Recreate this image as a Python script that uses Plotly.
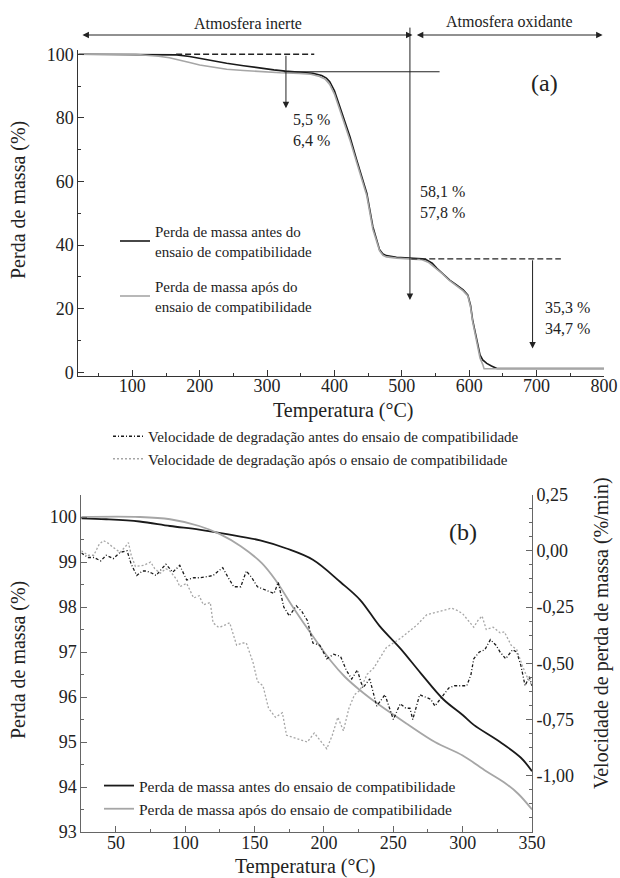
import plotly.graph_objects as go

# ---------------- DATA (a) ----------------
temp_antes_a = [20, 105, 160, 166, 185, 200, 220, 240, 265, 289, 310, 327, 350, 368, 381, 388, 393, 400,
                408, 416, 423, 433, 440, 448, 457, 462, 467, 472, 477, 492, 512, 530, 537, 545, 552, 560,
                571, 581, 591, 598, 602, 605, 611, 616, 620, 626, 633, 641, 800]
massa_antes_a = [100, 100, 100, 99.8, 99.3, 98.7, 98.0, 97.2, 96.4, 95.6, 95.1, 94.7, 94.3, 94.0, 93.3, 92.5,
                 91.4, 88.5, 83.5, 78.5, 74.1, 66.8, 62, 56.3, 45.8, 42, 38.5, 37.2, 36.7, 36.2, 36.0, 35.7,
                 35.3, 34.3, 32.7, 31.2, 29, 27.5, 25.9, 24.3, 21, 16.5, 10.2, 5.5, 3.9, 2.8, 2.0, 1.2, 1.2]
temp_apos_a = [20, 105, 120, 139, 155, 171, 185, 200, 220, 240, 265, 289, 320, 348, 365, 378, 386, 393, 400,
               408, 416, 423, 433, 440, 448, 457, 462, 467, 472, 477, 492, 512, 530, 540, 552, 560, 571, 581,
               591, 598, 602, 605, 611, 616, 620, 622, 800]
massa_apos_a = [100, 100, 99.7, 99.4, 98.9, 98.2, 97.4, 96.6, 95.9, 95.3, 94.9, 94.5, 94.2, 94.0, 93.7, 93.0,
                92.2, 90.5, 87.5, 82.5, 77.5, 73.0, 66, 61, 55.5, 45.0, 41.2, 38.2, 36.8, 36.3, 35.9, 35.7,
                35.4, 34.5, 32.5, 31.0, 28.8, 27.2, 25.6, 24.0, 20.5, 16, 9.5, 4.5, 2.5, 1.1, 1.1]

# ---------------- DATA (b) ----------------
temp_antes_b = [25, 43, 67, 89, 110, 130, 154, 173, 192, 212, 226, 240, 255, 270, 286, 300, 308, 327, 342, 350]
massa_antes_b = [99.97, 99.95, 99.9, 99.8, 99.72, 99.62, 99.48, 99.3, 99.05, 98.55, 98.16, 97.58, 97.08,
                 96.52, 95.95, 95.6, 95.38, 95.0, 94.65, 94.35]
temp_apos_b = [25, 67, 89, 110, 125, 140, 155, 165, 178, 192, 205, 215, 226, 240, 260, 280, 300, 317, 330,
               340, 350]
massa_apos_b = [100.0, 100.0, 99.95, 99.8, 99.62, 99.35, 98.98, 98.6, 97.98, 97.35, 96.8, 96.45, 96.15,
                95.82, 95.4, 95.0, 94.7, 94.35, 94.1, 93.85, 93.5]

temp_vel_antes = [25, 30, 34, 39, 43, 48, 53, 58, 61, 65, 69, 72, 76, 79, 83, 86, 91, 96, 101, 106, 111,
                  116, 120, 124, 127, 131, 135, 140, 144, 148, 152, 156, 160, 164, 167, 171, 175, 180, 184,
                  188, 192, 197, 202, 207, 212, 216, 220, 224, 228, 233, 238, 244, 250, 255, 259, 262, 264,
                  269, 273, 277, 280, 286, 290, 294, 299, 303, 306, 308, 312, 316, 320, 324, 327, 331, 336,
                  339, 342, 345, 348, 350]
vel_antes = [-0.01, -0.03, -0.03, -0.045, -0.02, -0.035, -0.007, 0.0, -0.06, -0.11, -0.09, -0.09, -0.1,
             -0.11, -0.08, -0.06, -0.095, -0.065, -0.13, -0.12, -0.12, -0.115, -0.11, -0.09, -0.075, -0.12,
             -0.16, -0.16, -0.09, -0.12, -0.16, -0.17, -0.18, -0.19, -0.14, -0.25, -0.29, -0.245, -0.27,
             -0.31, -0.41, -0.42, -0.48, -0.46, -0.47, -0.53, -0.57, -0.53, -0.61, -0.57, -0.69, -0.64,
             -0.75, -0.68, -0.7, -0.7, -0.75, -0.64, -0.65, -0.66, -0.69, -0.64, -0.61, -0.6, -0.6, -0.6,
             -0.55, -0.48, -0.45, -0.44, -0.395, -0.42, -0.45, -0.48, -0.44, -0.45, -0.51, -0.6, -0.56, -0.6]

temp_vel_apos = [25, 30, 34, 38, 41, 44, 48, 53, 57, 59, 61, 64, 70, 75, 78, 82, 86, 89, 94, 96, 101, 106,
                 110, 113, 118, 120, 124, 127, 132, 137, 141, 144, 149, 152, 156, 160, 165, 170, 173, 178,
                 184, 188, 193, 197, 202, 206, 210, 214, 218, 222, 226, 231, 236, 240, 245, 250, 255, 261,
                 267, 274, 280, 284, 288, 292, 296, 300, 304, 308, 311, 314, 317, 322, 327, 330, 335, 339,
                 343, 346, 350]
vel_apos = [0.0, -0.02, -0.02, 0.03, 0.045, 0.035, 0.015, -0.007, 0.02, 0.036, -0.02, -0.07, -0.065, -0.05,
            -0.08, -0.1, -0.08, -0.09, -0.13, -0.16, -0.145, -0.21, -0.2, -0.24, -0.23, -0.32, -0.34, -0.335,
            -0.32, -0.42, -0.41, -0.41, -0.5, -0.58, -0.6, -0.7, -0.74, -0.72, -0.82, -0.83, -0.84, -0.85,
            -0.81, -0.84, -0.88, -0.82, -0.74, -0.8, -0.7, -0.64, -0.62, -0.55, -0.52, -0.48, -0.43, -0.41,
            -0.39, -0.36, -0.33, -0.285, -0.275, -0.27, -0.262, -0.255, -0.265, -0.28, -0.31, -0.34, -0.31,
            -0.29, -0.35, -0.34, -0.365, -0.36, -0.42, -0.44, -0.51, -0.555, -0.6]

vel_tickvals = [0.25, 0.0, -0.25, -0.5, -0.75, -1.0]
vel_ticktext = ["0,25", "0,00", "-0,25", "-0,50", "-0,75", "-1,00"]

# ---------------- FIGURE ----------------
W, H = 620, 878
FONT = "Liberation Serif, Times New Roman, Times, serif"
BLACK = "#1a1a1a"
GRAY = "#a6a6a6"
TXT = "#222"


def px(x):
    return x / W


def py(y):
    return 1 - y / H


fig = go.Figure()

# (a) traces
fig.add_trace(go.Scatter(x=temp_antes_a, y=massa_antes_a, mode="lines",
                         line=dict(color=BLACK, width=1.6),
                         name="Perda de massa antes do<br>ensaio de compatibilidade",
                         legend="legend", legendgroup="a1", xaxis="x", yaxis="y"))
fig.add_trace(go.Scatter(x=temp_apos_a, y=massa_apos_a, mode="lines",
                         line=dict(color=GRAY, width=1.6),
                         name="Perda de massa após do<br>ensaio de compatibilidade",
                         legend="legend", legendgroup="a2", xaxis="x", yaxis="y"))

# (b) traces
fig.add_trace(go.Scatter(x=temp_vel_antes, y=vel_antes, mode="lines",
                         line=dict(color=BLACK, width=1.3, dash="3px,2px,1px,2px"),
                         name="Velocidade de degradação antes do ensaio de compatibilidade",
                         legend="legend2", xaxis="x2", yaxis="y3"))
fig.add_trace(go.Scatter(x=temp_vel_apos, y=vel_apos, mode="lines",
                         line=dict(color=GRAY, width=1.3, dash="2px,2px"),
                         name="Velocidade de degradação após o ensaio de compatibilidade",
                         legend="legend2", xaxis="x2", yaxis="y3"))
fig.add_trace(go.Scatter(x=temp_antes_b, y=massa_antes_b, mode="lines", line_shape="spline",
                         line=dict(color=BLACK, width=1.8),
                         name="Perda de massa antes do ensaio de compatibilidade",
                         legend="legend3", xaxis="x2", yaxis="y2"))
fig.add_trace(go.Scatter(x=temp_apos_b, y=massa_apos_b, mode="lines", line_shape="spline",
                         line=dict(color=GRAY, width=1.8),
                         name="Perda de massa após do ensaio de compatibilidade",
                         legend="legend3", xaxis="x2", yaxis="y2"))

tickfont = dict(family=FONT, size=18, color=TXT)
ax_common = dict(showgrid=False, zeroline=False, showline=True, ticks="inside", ticklen=6,
                 tickfont=tickfont, automargin=False)

fig.update_layout(
    width=W, height=H, margin=dict(l=0, r=0, t=0, b=0),
    paper_bgcolor="white", plot_bgcolor="white",
    font=dict(family=FONT, color=TXT),
    separators=",.",
    xaxis=dict(domain=[px(78.4), px(604)], range=[20, 800], dtick=100, tick0=0,
               linecolor="#333", tickcolor="#333", ticklabelstandoff=-6,
               minor=dict(dtick=50, tick0=0, ticks="inside", ticklen=3, tickcolor="#333"),
               anchor="y", **ax_common),
    yaxis=dict(domain=[py(375.5), py(49.5)], range=[-1, 101.5], dtick=20, tick0=0,
               linecolor="#333", tickcolor="#333",
               minor=dict(dtick=10, tick0=0, ticks="inside", ticklen=3, tickcolor="#333"),
               anchor="x", **ax_common),
    xaxis2=dict(domain=[px(81.3), px(532)], range=[25, 350], dtick=50, tick0=0,
                linecolor="#666", tickcolor="#666", ticklabelstandoff=-6,
                minor=dict(dtick=25, tick0=0, ticks="inside", ticklen=3, tickcolor="#666"),
                anchor="y2", **ax_common),
    yaxis2=dict(domain=[py(832), py(494.5)], range=[93, 100.5], dtick=1, tick0=0,
                linecolor="#666", tickcolor="#666",
                minor=dict(dtick=0.5, tick0=0, ticks="inside", ticklen=3, tickcolor="#666"),
                anchor="x2", **ax_common),
    yaxis3=dict(overlaying="y2", side="right", anchor="x2", range=[-1.25, 0.25],
                tickmode="array", tickvals=vel_tickvals, ticktext=vel_ticktext,
                linecolor="#666", tickcolor="#666",
                minor=dict(tickmode="linear", dtick=0.0625, tick0=0, ticks="inside", ticklen=3,
                           tickcolor="#666"),
                **ax_common),
    legend=dict(x=px(115), y=py(215), xanchor="left", yanchor="top", bgcolor="rgba(0,0,0,0)",
                font=dict(family=FONT, size=15, color=TXT), tracegroupgap=13,
                traceorder="grouped", itemwidth=30),
    legend2=dict(x=px(108), y=py(420), xanchor="left", yanchor="top", bgcolor="rgba(0,0,0,0)",
                 font=dict(family=FONT, size=15, color=TXT), itemwidth=30, tracegroupgap=0),
    legend3=dict(x=px(99), y=py(769), xanchor="left", yanchor="top", bgcolor="rgba(0,0,0,0)",
                 font=dict(family=FONT, size=15.5, color=TXT), itemwidth=30, tracegroupgap=0),
    showlegend=True,
)

# ---------------- annotations / guides ----------------
ann = []
afont = dict(family=FONT, size=16, color=TXT)
tfont = dict(family=FONT, size=20, color=TXT)
arrow = dict(showarrow=True, arrowhead=2, arrowsize=1.3, arrowwidth=1, arrowcolor="#222", text="")
mid = dict(xanchor="center", yanchor="middle", showarrow=False)

# axis titles
ann.append(dict(text="Perda de massa (%)", xref="paper", yref="paper", x=px(18), y=py(200),
                textangle=-90, font=tfont, **mid))
ann.append(dict(text="Temperatura (°C)", xref="paper", yref="paper", x=px(343), y=py(410),
                font=tfont, **mid))
ann.append(dict(text="Perda de massa (%)", xref="paper", yref="paper", x=px(18), y=py(660),
                textangle=-90, font=tfont, **mid))
ann.append(dict(text="Temperatura (°C)", xref="paper", yref="paper", x=px(305), y=py(866),
                font=tfont, **mid))
ann.append(dict(text="Velocidade de perda de massa (%/min)", xref="paper", yref="paper", x=px(601),
                y=py(633), textangle=-90, font=tfont, **mid))

# atmosphere arrows
ann.append(dict(xref="x", yref="paper", axref="x", ayref="pixel", x=26, y=py(35), ax=518, ay=0,
                arrowside="end+start", **arrow))
ann.append(dict(xref="x", yref="paper", axref="x", ayref="pixel", x=798, y=py(35), ax=520, ay=0,
                arrowside="end+start", **arrow))
ann.append(dict(text="Atmosfera inerte", xref="x", yref="paper", x=272, y=py(24), font=afont, **mid))
ann.append(dict(text="Atmosfera oxidante", xref="x", yref="paper", x=660, y=py(22), font=afont, **mid))

# vertical arrows
ann.append(dict(xref="x", yref="y", axref="pixel", ayref="pixel", x=512, y=22.7, ax=0, ay=-274, **arrow))
ann.append(dict(xref="x", yref="y", axref="x", ayref="y", x=328, y=83, ax=328, ay=100, **arrow))
ann.append(dict(xref="x", yref="y", axref="x", ayref="y", x=694, y=7.5, ax=694, ay=35.7, **arrow))

ann.append(dict(text="5,5 %<br>6,4 %", xref="x", yref="y", x=336, y=76.1, xanchor="left",
                yanchor="middle", showarrow=False, align="left", font=afont))
ann.append(dict(text="58,1 %<br>57,8 %", xref="x", yref="y", x=524.5, y=53.6, xanchor="left",
                yanchor="middle", showarrow=False, align="left", font=afont))
ann.append(dict(text="35,3 %<br>34,7 %", xref="x", yref="y", x=709, y=17.0, xanchor="left",
                yanchor="middle", showarrow=False, align="left", font=afont))
ann.append(dict(text="(a)", xref="x", yref="y", x=712, y=91,
                font=dict(family=FONT, size=24, color=TXT), **mid))
ann.append(dict(text="(b)", xref="x2", yref="y2", x=300, y=99.67,
                font=dict(family=FONT, size=24, color=TXT), **mid))

fig.update_layout(annotations=ann)

shapes = [
    dict(type="line", xref="x", yref="y", x0=165, x1=370, y0=100, y1=100,
         line=dict(color="#222", width=1.3, dash="6px,3px")),
    dict(type="line", xref="x", yref="y", x0=514, x1=736, y0=35.7, y1=35.7,
         line=dict(color="#222", width=1.3, dash="6px,3px")),
    dict(type="line", xref="x", yref="y", x0=325, x1=556, y0=94.5, y1=94.5,
         line=dict(color="#222", width=1)),
]
fig.update_layout(shapes=shapes)

fig.write_html("out.html", config={"displayModeBar": False},
               post_script="document.body.style.margin='0px';document.body.style.overflow='hidden';")
